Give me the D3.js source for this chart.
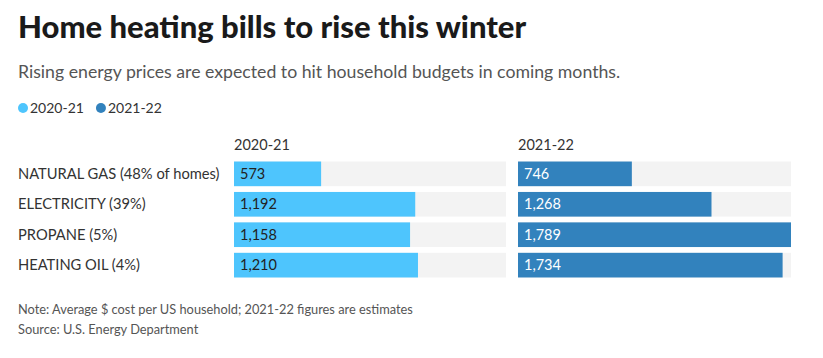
<!DOCTYPE html>
<html>
<head>
<meta charset="utf-8">
<script src="https://d3js.org/d3.v7.min.js"></script>
<style>
  body { margin: 0; background: #fff; }
  text { font-family: "Source Sans Pro", Lato, "Open Sans", sans-serif; }
</style>
</head>
<body>
<script>
  const categories = ["NATURAL GAS (48% of homes)", "ELECTRICITY (39%)", "PROPANE (5%)", "HEATING OIL (4%)"];
  const seasons = ["2020-21", "2021-22"];
  const values2020 = [573, 1192, 1158, 1210];
  const values2021 = [746, 1268, 1789, 1734];
  const colors = ["#4ec5fd", "#3282bd"];
  const textColors = ["#222", "#fff"];

  const width = 823, height = 358;
  const svg = d3.select("body").append("svg")
    .attr("width", width)
    .attr("height", height);

  svg.append("text")
    .attr("x", 18).attr("y", 38)
    .style("font-size", "31px").style("font-weight", 900)
    .style("fill", "#1a1a1a")
    .text("Home heating bills to rise this winter");

  svg.append("text")
    .attr("x", 18).attr("y", 78)
    .style("font-size", "17.7px").style("fill", "#555")
    .text("Rising energy prices are expected to hit household budgets in coming months.");

  // legend
  const legend = svg.append("g").attr("transform", "translate(18,108)");
  let lx = 0;
  seasons.forEach((s, i) => {
    legend.append("circle").attr("cx", lx + 5).attr("cy", 0).attr("r", 5).attr("fill", colors[i]);
    const t = legend.append("text").attr("x", lx + 12).attr("y", 5)
      .style("font-size", "14px").style("fill", "#333").text(s);
    lx += 12 + t.node().getComputedTextLength() + 12;
  });

  const series = [values2020, values2021];
  const panels = [[234, 506], [518, 791]];
  const y = d3.scaleBand().domain(categories).range([160, 279]).paddingInner(0.19).paddingOuter(0.05);
  const maxVal = d3.max(values2021.concat(values2020));

  svg.append("g").selectAll("text")
    .data(categories).join("text")
    .attr("x", 18)
    .attr("y", d => y(d) + y.bandwidth() / 2 + 5)
    .style("font-size", "14.7px").style("fill", "#333")
    .text(d => d);

  panels.forEach((p, i) => {
    const x = d3.scaleLinear().domain([0, maxVal]).range(p);
    const g = svg.append("g");
    g.append("text").attr("x", p[0]).attr("y", 150)
      .style("font-size", "14.5px").style("fill", "#333").text(seasons[i]);
    g.selectAll("rect.bg").data(categories).join("rect")
      .attr("class", "bg")
      .attr("x", p[0]).attr("y", d => y(d))
      .attr("width", p[1] - p[0]).attr("height", y.bandwidth())
      .attr("fill", "#f3f3f3");
    g.selectAll("rect.bar").data(series[i]).join("rect")
      .attr("class", "bar")
      .attr("x", x(0)).attr("y", (d, j) => y(categories[j]))
      .attr("width", d => x(d) - x(0)).attr("height", y.bandwidth())
      .attr("fill", colors[i]);
    g.selectAll("text.val").data(series[i]).join("text")
      .attr("class", "val")
      .attr("x", x(0) + 6).attr("y", (d, j) => y(categories[j]) + y.bandwidth() / 2 + 5)
      .style("font-size", "14.5px").style("fill", textColors[i])
      .text(d => d3.format(",")(d));
  });

  svg.append("text").attr("x", 18).attr("y", 314)
    .style("font-size", "12.8px").style("fill", "#555")
    .text("Note: Average $ cost per US household; 2021-22 figures are estimates");
  svg.append("text").attr("x", 18).attr("y", 334)
    .style("font-size", "12.8px").style("fill", "#555")
    .text("Source: U.S. Energy Department");
</script>
</body>
</html>
